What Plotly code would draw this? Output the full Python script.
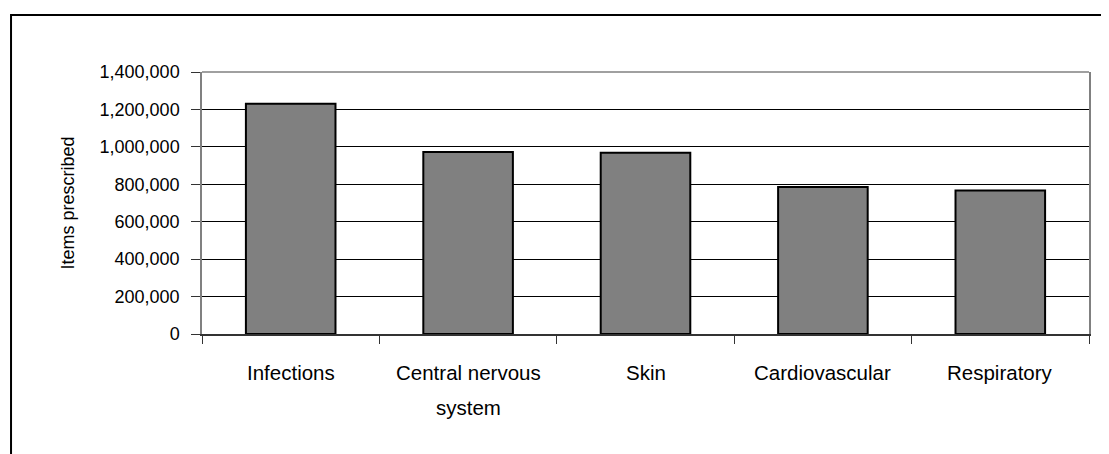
import plotly.graph_objects as go

categories = ["Infections", "Central nervous system", "Skin", "Cardiovascular", "Respiratory"]
label_lines = [["Infections"], ["Central nervous", "system"], ["Skin"], ["Cardiovascular"], ["Respiratory"]]
items_prescribed = [1231000, 972000, 968000, 786000, 767000]
y_ticks = [0, 200000, 400000, 600000, 800000, 1000000, 1200000, 1400000]
y_title = "Items prescribed"

FONT = "Liberation Sans, Arial, sans-serif"

fig = go.Figure()
fig.add_trace(go.Bar(
    x=categories,
    y=items_prescribed,
    marker=dict(color="#808080", line=dict(color="#000000", width=2)),
    width=0.505,
))

annotations = []
for cat, lines in zip(categories, label_lines):
    for i, line in enumerate(lines):
        annotations.append(dict(
            x=cat, xref="x", y=0, yref="paper",
            text=line, showarrow=False,
            yanchor="middle", xanchor="center",
            yshift=-38 - 35 * i,
            font=dict(family=FONT, size=20.5, color="#000000"),
        ))
annotations.append(dict(
    x=-0.1516, xref="paper", y=0.5, yref="paper",
    text=y_title, showarrow=False, textangle=-90,
    xanchor="center", yanchor="middle",
    font=dict(family=FONT, size=18, color="#000000"),
))

fig.update_layout(
    width=1109, height=454,
    margin=dict(l=194, r=28, t=64, b=128, pad=0),
    paper_bgcolor="#ffffff", plot_bgcolor="#ffffff",
    showlegend=False,
    annotations=annotations,
    font=dict(family=FONT, size=18, color="#000000"),
    shapes=[
        # outer chart frame (clipped at right and bottom)
        dict(type="rect", xref="paper", yref="paper",
             x0=-0.2153, x1=1.2, y0=-0.6, y1=1.2177,
             line=dict(color="#000000", width=2), fillcolor="rgba(0,0,0,0)", layer="above"),
        # top border of plot area
        dict(type="line", xref="paper", yref="paper",
             x0=0, x1=1, y0=1, y1=1,
             line=dict(color="#808080", width=1.5), layer="above"),
    ],
)

fig.update_xaxes(
    type="category",
    showticklabels=False,
    ticks="outside", tickson="boundaries", ticklen=8, tickcolor="#333333", tickwidth=1,
    showline=True, linecolor="#333333", linewidth=1.5,
    showgrid=False, zeroline=False,
)
fig.update_yaxes(
    range=[0, 1400000],
    tickvals=y_ticks,
    tickformat=",",
    ticks="outside", ticklen=9, tickcolor="#333333", tickwidth=1,
    ticklabelstandoff=8,
    tickfont=dict(family=FONT, size=18, color="#000000"),
    showline=True, mirror=True, linecolor="#808080", linewidth=1.5,
    showgrid=True, gridcolor="#000000", gridwidth=1,
    zeroline=False,
)

fig.write_html("out.html")
